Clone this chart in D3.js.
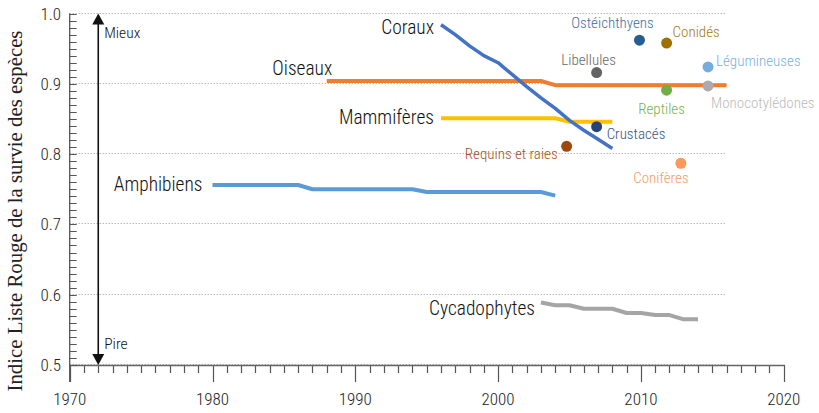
<!DOCTYPE html>
<html><head><meta charset="utf-8">
<script src="https://cdn.jsdelivr.net/npm/d3@7"></script>
<style>
body{margin:0;background:#fff;}
svg{display:block;}
.cond{font-family:"Liberation Sans Narrow","Arial Narrow","Roboto Condensed","DejaVu Sans Condensed",sans-serif;font-weight:300;}
</style></head>
<body>
<svg id="chart" width="819" height="413"></svg>
<script>
// ---- data ----
const xTicks = [1970, 1980, 1990, 2000, 2010, 2020];
const yTicks = [0.5, 0.6, 0.7, 0.8, 0.9, 1.0];

const oiseauxYears = [1988, 2003, 2004, 2016];
const oiseauxValues = [0.904, 0.904, 0.898, 0.898];

const corauxYears = [1996, 1997, 1998, 1999, 2000, 2001, 2002, 2003, 2004, 2005, 2006, 2007, 2008];
const corauxValues = [0.984, 0.970, 0.954, 0.940, 0.930, 0.913, 0.896, 0.880, 0.865, 0.848, 0.834, 0.821, 0.808];

const mammiferesYears = [1996, 2004, 2005, 2008];
const mammiferesValues = [0.851, 0.851, 0.846, 0.846];

const amphibiensYears = [1980, 1986, 1987, 1994, 1995, 2003, 2004];
const amphibiensValues = [0.756, 0.756, 0.750, 0.750, 0.746, 0.746, 0.741];

const cycadophytesYears = [2003, 2004, 2005, 2006, 2008, 2009, 2010, 2011, 2012, 2013, 2014];
const cycadophytesValues = [0.589, 0.585, 0.585, 0.580, 0.580, 0.574, 0.574, 0.571, 0.571, 0.565, 0.565];

const pointNames = ["Ostéichthyens", "Conidés", "Libellules", "Légumineuses", "Monocotylédones", "Reptiles", "Crustacés", "Requins et raies", "Conifères"];
const pointYears = [2009.9, 2011.8, 2006.9, 2014.7, 2014.7, 2011.8, 2006.9, 2004.8, 2012.8];
const pointValues = [0.962, 0.958, 0.916, 0.924, 0.897, 0.891, 0.839, 0.811, 0.787];

// ---- styles ----
const seriesColor = {oiseaux:"#ED7D31", coraux:"#4472C4", mammiferes:"#FFC000", amphibiens:"#5B9BD5", cycadophytes:"#A5A5A5"};
const dotColors = ["#255E91", "#9E7000", "#636363", "#74AEDF", "#ABABAB", "#70AD47", "#264478", "#9E480E", "#F79A5C"];
const labelColors = ["#3A6FAA", "#A27917", "#666666", "#79B1E2", "#BBBBBB", "#76B051", "#35528A", "#A25226", "#F59B60"];
const labelPos = [
  {a:"middle", dx:-27, dy:-12},
  {a:"start", dx:6, dy:-6},
  {a:"middle", dx:-8, dy:-8},
  {a:"start", dx:8, dy:-1},
  {a:"start", dx:3, dy:22},
  {a:"middle", dx:-5, dy:24},
  {a:"start", dx:10, dy:12},
  {a:"end", dx:-9, dy:13},
  {a:"middle", dx:-20, dy:20}
];
const seriesLabelPos = {
  oiseaux: {dx:5.5, dy:-6},
  mammiferes: {dx:-7, dy:6},
  amphibiens: {dx:-10, dy:6},
  cycadophytes: {dx:-6, dy:13},
  coraux: {dx:-7, dy:9}
};

const svg = d3.select("#chart");
const x = d3.scaleLinear().domain([1970, 2020]).range([69.7, 783.7]);
const y = d3.scaleLinear().domain([0.5, 1.0]).range([365, 13.5]);

// gridlines (dotted) up to 2016
svg.append("g").selectAll("line").data(yTicks).join("line")
  .attr("x1", x(1970)).attr("x2", x(2016))
  .attr("y1", d => Math.round(y(d)) - 0.5).attr("y2", d => Math.round(y(d)) - 0.5)
  .attr("stroke", "#999").attr("stroke-width", 1).attr("stroke-dasharray", "1,2");

// x axis: minor (every year) and major ticks
const xMinor = d3.range(1970, 2021);
svg.append("g").selectAll("line").data(xMinor).join("line")
  .attr("x1", d => Math.round(x(d)) + 0.5).attr("x2", d => Math.round(x(d)) + 0.5)
  .attr("y1", 365).attr("y2", d => (d % 10 === 0) ? 382 : 373)
  .attr("stroke", "#555").attr("stroke-width", 1.2);
svg.append("line").attr("x1", x(1970)).attr("x2", x(2020) + 1)
  .attr("y1", 365.5).attr("y2", 365.5).attr("stroke", "#666").attr("stroke-width", 1.6);

// y axis with minor ticks every 0.01
const yMinor = d3.range(50, 101).map(v => v / 100);
svg.append("g").selectAll("line").data(yMinor).join("line")
  .attr("x1", x(1970)).attr("x2", x(1970) + 7)
  .attr("y1", d => Math.round(y(d)) + 0.5).attr("y2", d => Math.round(y(d)) + 0.5)
  .attr("stroke", "#555").attr("stroke-width", 1);
svg.append("line").attr("x1", x(1970)).attr("x2", x(1970))
  .attr("y1", y(1.0)).attr("y2", 382).attr("stroke", "#555").attr("stroke-width", 1.3);

// tick labels
svg.append("g").selectAll("text").data(yTicks).join("text").attr("class", "cond")
  .attr("x", 61).attr("y", d => y(d) + 6).attr("text-anchor", "end")
  .attr("font-size", 17).attr("fill", "#222").text(d => d.toFixed(1));
svg.append("g").selectAll("text").data(xTicks).join("text").attr("class", "cond")
  .attr("x", d => x(d)).attr("y", 405).attr("text-anchor", "middle")
  .attr("font-size", 17).attr("fill", "#222").text(d => d);

// y title
svg.append("text").attr("transform", "translate(22,211) rotate(-90)")
  .attr("text-anchor", "middle").attr("font-family", "'Liberation Serif','Times New Roman',serif")
  .attr("font-size", 20.8).attr("fill", "#222").text("Indice Liste Rouge de la survie des espèces");

// better/worse arrow
const ax = x(1972);
svg.append("line").attr("x1", ax).attr("x2", ax).attr("y1", y(1.0) + 9).attr("y2", y(0.5) - 9)
  .attr("stroke", "#111").attr("stroke-width", 1.6);
svg.append("path").attr("d", `M${ax},${y(1.0)} l-6,11 l12,0 z`).attr("fill", "#111");
svg.append("path").attr("d", `M${ax},${y(0.5)} l-6,-11 l12,0 z`).attr("fill", "#111");
svg.append("text").attr("class", "cond").attr("x", ax + 6).attr("y", 38).attr("font-size", 15.5).attr("fill", "#111").text("Mieux");
svg.append("text").attr("class", "cond").attr("x", ax + 6).attr("y", 349).attr("font-size", 15.5).attr("fill", "#111").text("Pire");

// series lines
const line = d3.line().x(d => x(d[0])).y(d => y(d[1]));
const series = [
  {name:"Oiseaux", key:"oiseaux", yrs:oiseauxYears, vals:oiseauxValues, w:4},
  {name:"Mammifères", key:"mammiferes", yrs:mammiferesYears, vals:mammiferesValues, w:4},
  {name:"Amphibiens", key:"amphibiens", yrs:amphibiensYears, vals:amphibiensValues, w:4},
  {name:"Cycadophytes", key:"cycadophytes", yrs:cycadophytesYears, vals:cycadophytesValues, w:4},
  {name:"Coraux", key:"coraux", yrs:corauxYears, vals:corauxValues, w:3.5}
];
series.forEach(s => {
  svg.append("path").datum(d3.zip(s.yrs, s.vals)).attr("d", line)
    .attr("fill", "none").attr("stroke", seriesColor[s.key]).attr("stroke-width", s.w)
    .attr("stroke-linejoin", "round");
  const p = seriesLabelPos[s.key];
  svg.append("text").attr("class", "cond")
    .attr("x", x(s.yrs[0]) + p.dx).attr("y", y(s.vals[0]) + p.dy)
    .attr("text-anchor", "end").attr("font-size", 19.4).attr("fill", "#111").text(s.name);
});

// dots
const pts = d3.range(pointNames.length);
svg.append("g").selectAll("circle").data(pts).join("circle")
  .attr("cx", i => x(pointYears[i])).attr("cy", i => y(pointValues[i])).attr("r", 5.5)
  .attr("fill", i => dotColors[i]);
svg.append("g").selectAll("text").data(pts).join("text").attr("class", "cond")
  .attr("x", i => x(pointYears[i]) + labelPos[i].dx).attr("y", i => y(pointValues[i]) + labelPos[i].dy)
  .attr("text-anchor", i => labelPos[i].a).attr("font-size", 15).attr("fill", i => labelColors[i])
  .text(i => pointNames[i]);
</script>
</body></html>
